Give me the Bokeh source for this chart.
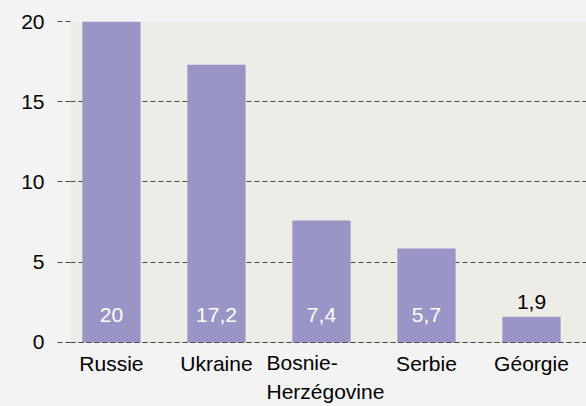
from bokeh.plotting import figure
from bokeh.models import Range1d, FixedTicker, Span, ColumnDataSource, BoxAnnotation
from bokeh.core.properties import value
from bokeh.embed import file_html
from bokeh.resources import INLINE

categories = ["Russie", "Ukraine", "Bosnie-\nHerzégovine", "Serbie", "Géorgie"]
bar_heights = [20.0, 17.3, 7.6, 5.85, 1.6]
bar_labels = ["20", "17,2", "7,4", "5,7", "1,9"]
y_ticks = [0, 5, 10, 15, 20]

FONT = "Liberation Sans"
BAR = "#9996c7"
PLOT_BG = "#eeece7"
PAGE_BG = "#f2f3f2"
GRID = "#4a4a4a"
DASH = "5 3"

idx = list(range(len(categories)))

p = figure(width=586, height=406, output_backend="svg", toolbar_location=None,
           x_range=Range1d(-0.39, 4.524), y_range=Range1d(-3.99, 20),
           min_border_left=70, min_border_right=0, min_border_top=21, min_border_bottom=0)
p.background_fill_color = PAGE_BG
p.border_fill_color = PAGE_BG
p.outline_line_color = None

# beige plotting area between 0 and the top tick
p.add_layout(BoxAnnotation(bottom=y_ticks[0], top=y_ticks[-1], fill_color=PLOT_BG, fill_alpha=1,
                           line_color=None, level="image"))

src = ColumnDataSource(dict(x=idx, top=bar_heights))
p.vbar(x="x", top="top", width=0.555, source=src, fill_color=BAR, line_color=None)

inside = [i for i, h in enumerate(bar_heights) if h > 3]
outside = [i for i, h in enumerate(bar_heights) if h <= 3]
p.text(x=[idx[i] for i in inside], y=[0] * len(inside), text=[bar_labels[i] for i in inside],
       text_align="center", text_baseline="alphabetic", y_offset=-27,
       text_font=value(FONT), text_font_size="21px", text_color="white")
p.text(x=[idx[i] for i in outside], y=[bar_heights[i] for i in outside], text=[bar_labels[i] for i in outside],
       text_align="center", text_baseline="alphabetic", y_offset=-15,
       text_font=value(FONT), text_font_size="21px", text_color="black")

p.add_layout(Span(location=0, dimension="width", line_color=GRID, line_dash=DASH, line_width=1, level="overlay"))

p.xgrid.grid_line_color = None
p.ygrid.grid_line_color = GRID
p.ygrid.grid_line_dash = DASH
p.ygrid.grid_line_width = 1
p.ygrid.level = "underlay"

p.yaxis.ticker = FixedTicker(ticks=y_ticks)
p.yaxis.axis_line_color = None
p.yaxis.major_tick_out = 13
p.yaxis.major_tick_in = 0
p.yaxis.major_tick_line_color = GRID
p.yaxis.major_tick_line_dash = DASH
p.yaxis.major_tick_line_width = 1
p.yaxis.minor_tick_line_color = None
p.yaxis.major_label_standoff = 13
p.yaxis.major_label_text_font = FONT
p.yaxis.major_label_text_font_size = "21px"
p.yaxis.major_label_text_color = "black"

p.xaxis.visible = False

# category labels below the bars
single = [i for i, c in enumerate(categories) if "\n" not in c]
multi = [i for i, c in enumerate(categories) if "\n" in c]
p.text(x=[idx[i] for i in single], y=[0] * len(single), text=[categories[i] for i in single],
       text_align="center", text_baseline="top", y_offset=10,
       text_font=value(FONT), text_font_size="21px", text_color="black")
p.text(x=[idx[i] for i in multi], y=[0] * len(multi), text=[categories[i] for i in multi],
       text_align="left", text_baseline="top", x_offset=-55, y_offset=9, text_line_height=1.25,
       text_font=value(FONT), text_font_size="21px", text_color="black")

html = file_html(p, INLINE)
html = html.replace("<head>", "<head><style>html,body{background:%s;}</style>" % PAGE_BG, 1)
open("out.html", "w").write(html)
